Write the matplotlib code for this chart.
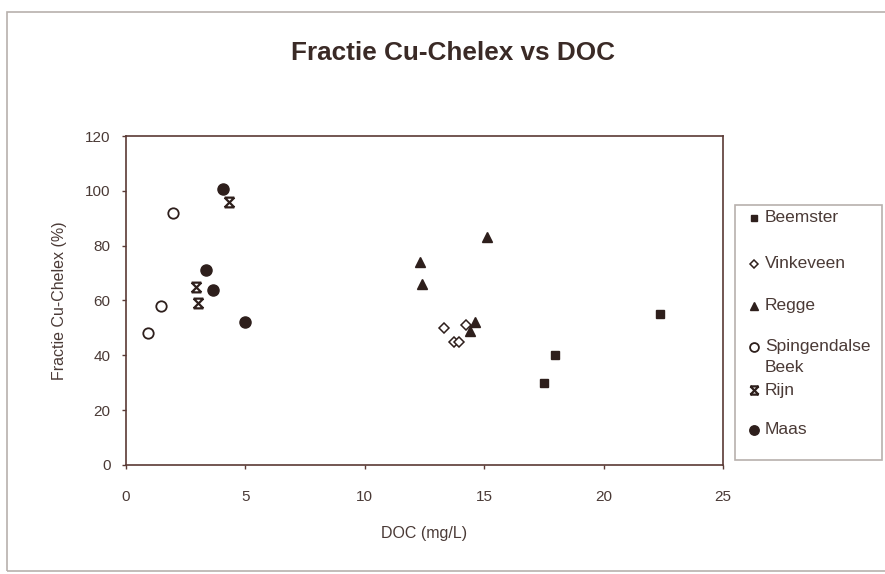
import matplotlib
matplotlib.use("Agg")
import matplotlib.pyplot as plt
from matplotlib.path import Path
from matplotlib.patches import Rectangle
from matplotlib.lines import Line2D

plt.rcParams['font.family'] = ['Liberation Sans', 'DejaVu Sans']

# data: DOC (mg/L) and Fractie Cu-Chelex (%)
beemster_x = [17.5, 17.95, 22.35]
beemster_y = [30, 40, 55]
vinkeveen_x = [13.3, 13.75, 13.95, 14.25]
vinkeveen_y = [50, 45, 45, 51]
regge_x = [12.3, 12.4, 15.1, 14.6, 14.4]
regge_y = [74, 66, 83, 52, 49]
spingendalse_x = [0.9, 1.45, 1.95]
spingendalse_y = [48, 58, 92]
rijn_x = [4.3, 2.95, 3.0]
rijn_y = [96, 65, 59]
maas_x = [4.05, 3.35, 3.65, 5.0]
maas_y = [100.5, 71, 64, 52]

x_ticks = [0, 5, 10, 15, 20, 25]
y_ticks = [0, 20, 40, 60, 80, 100, 120]

ink = '#2e1f1c'
text_col = '#4a3a36'

# hourglass-like star marker (Excel style)
star = Path([(-1, -1), (1, 1), (-1, 1), (1, -1), (-1, 1), (1, 1), (-1, -1), (1, -1)],
            [Path.MOVETO, Path.LINETO, Path.MOVETO, Path.LINETO,
             Path.MOVETO, Path.LINETO, Path.MOVETO, Path.LINETO])

series = [
    ('Beemster', beemster_x, beemster_y, dict(marker='s', ms=5.5, mfc=ink, mec=ink)),
    ('Vinkeveen', vinkeveen_x, vinkeveen_y, dict(marker='D', ms=5, mfc='white', mec=ink, mew=1.1)),
    ('Regge', regge_x, regge_y, dict(marker='^', ms=7.5, mfc=ink, mec=ink)),
    ('Spingendalse\nBeek', spingendalse_x, spingendalse_y, dict(marker='o', ms=7.5, mfc='white', mec=ink, mew=1.3)),
    ('Rijn', rijn_x, rijn_y, dict(marker=star, ms=7, mfc='none', mec=ink, mew=1.6)),
    ('Maas', maas_x, maas_y, dict(marker='o', ms=8, mfc=ink, mec=ink)),
]

fig = plt.figure(figsize=(8.85, 5.74), dpi=100)
ax = fig.add_axes([0.1424, 0.19, 0.6746, 0.573])

for name, xs, ys, style in series:
    ax.plot(xs, ys, linestyle='none', **style)

ax.set_xlim(0, 25)
ax.set_ylim(0, 120)
ax.set_xticks(x_ticks)
ax.set_yticks(y_ticks)
for s in ax.spines.values():
    s.set_color('#5a3a35')
    s.set_linewidth(1.2)
ax.tick_params(colors='#5a3a35', labelcolor=text_col, labelsize=11, length=3, width=1)
ax.tick_params(axis='x', pad=15)
ax.tick_params(axis='y', pad=8)
ax.set_xlabel('DOC (mg/L)', fontsize=11.5, color=text_col, labelpad=16)
ax.set_ylabel('Fractie Cu-Chelex (%)', fontsize=11.5, color=text_col, labelpad=13)

fig.text(0.512, 1 - 53 / 574, 'Fractie Cu-Chelex vs DOC', ha='center', va='center',
         fontsize=18.8, fontweight='bold', color='#3a2a26')

# chart frame
fig.patches.append(Rectangle((7 / 885, 0.005), 1.2, 1 - 12 / 574 - 0.005,
                             transform=fig.transFigure, fill=False,
                             edgecolor='#b8b0ad', linewidth=1.2))

# legend box drawn by hand to mimic Excel spacing
fig.patches.append(Rectangle((735 / 885, 1 - 460 / 574), 147 / 885, 255 / 574,
                             transform=fig.transFigure, fill=False,
                             edgecolor='#b8b0ad', linewidth=1.2))
legend_rows = [218, 264, 306, 347, 390, 430]
for (name, xs, ys, style), row in zip(series, legend_rows):
    yf = 1 - row / 574
    st = dict(style)
    st['ms'] = st['ms'] * 0.85
    fig.add_artist(Line2D([754 / 885], [yf], transform=fig.transFigure, linestyle='none', **st))
    lines = name.split('\n')
    for i, part in enumerate(lines):
        fig.text(765 / 885, yf - i * 20 / 574, part, ha='left', va='center',
                 fontsize=12.5, color=text_col)

fig.savefig('out.png', dpi=100)
